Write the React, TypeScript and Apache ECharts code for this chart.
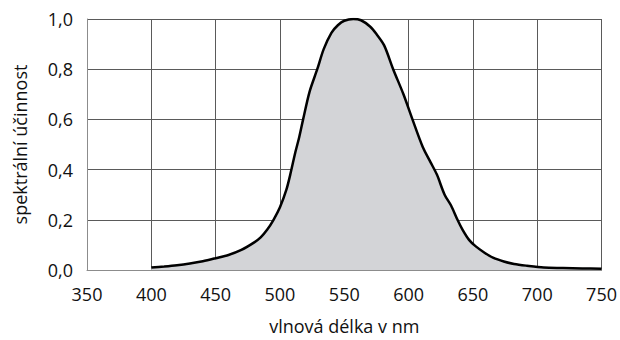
import React, { useEffect, useRef } from "react";
import * as echarts from "echarts";

const wavelengths = [
  400, 410, 420, 430, 440, 450, 460, 470, 480, 485, 490, 495, 500, 505, 508, 512, 515, 518, 523, 529,
  534, 540, 545, 550, 557, 563, 570, 575, 581, 588, 596, 603, 611, 617, 622, 628, 633, 638, 642, 647,
  652, 659, 666, 674, 682, 692, 705, 720, 735, 750,
];
const efficiency = [
  0.01, 0.014, 0.019, 0.026, 0.035, 0.047, 0.06, 0.08, 0.11, 0.13, 0.16, 0.2, 0.25, 0.32, 0.38, 0.47,
  0.53, 0.6, 0.71, 0.8, 0.88, 0.945, 0.975, 0.993, 1.0, 0.995, 0.97, 0.94, 0.895, 0.8, 0.7, 0.6, 0.49,
  0.43, 0.38, 0.3, 0.257, 0.2, 0.16, 0.12, 0.095, 0.069, 0.048, 0.034, 0.024, 0.017, 0.01, 0.008, 0.006,
  0.005,
];

const xTitle = "vlnová délka v nm";
const yTitle = "spektrální účinnost";

export default function App() {
  const ref = useRef<HTMLDivElement>(null);
  useEffect(() => {
    if (!ref.current) return;
    const chart = echarts.init(ref.current, undefined, { renderer: "svg" });
    const font = "'Open Sans', 'Noto Sans', sans-serif";
    chart.setOption({
      animation: false,
      grid: { left: 87, right: 11, top: 19, bottom: 64, containLabel: false },
      xAxis: {
        type: "value",
        min: 350,
        max: 750,
        interval: 50,
        name: xTitle,
        nameLocation: "middle",
        nameGap: 47,
        nameTextStyle: { fontFamily: font, fontSize: 18, color: "#111111" },
        axisLine: { show: true, lineStyle: { color: "#8c8c8c", width: 1 } },
        axisTick: { show: false },
        axisLabel: { fontFamily: font, fontSize: 18, color: "#111111", margin: 15 },
        splitLine: { show: true, lineStyle: { color: "#5a5a5a", width: 1 } },
      },
      yAxis: {
        type: "value",
        min: 0,
        max: 1,
        interval: 0.2,
        name: yTitle,
        nameLocation: "middle",
        nameGap: 58,
        nameTextStyle: { fontFamily: font, fontSize: 18, color: "#111111" },
        axisLine: { show: true, lineStyle: { color: "#8c8c8c", width: 1 } },
        axisTick: { show: false },
        axisLabel: {
          fontFamily: font,
          fontSize: 18,
          color: "#111111",
          margin: 14,
          formatter: (v: number) => v.toFixed(1).replace(".", ","),
        },
        splitLine: { show: true, lineStyle: { color: "#5a5a5a", width: 1 } },
      },
      series: [
        {
          type: "line",
          data: wavelengths.map((w, i) => [w, efficiency[i]]),
          smooth: 0.3,
          symbol: "none",
          lineStyle: { color: "#000000", width: 2.5 },
          areaStyle: { color: "#d3d4d7", opacity: 1 },
        },
      ],
    });
    return () => chart.dispose();
  }, []);
  return (
    <div
      ref={ref}
      style={{ position: "absolute", left: 0, top: 0, width: 620, height: 340 }}
    />
  );
}
